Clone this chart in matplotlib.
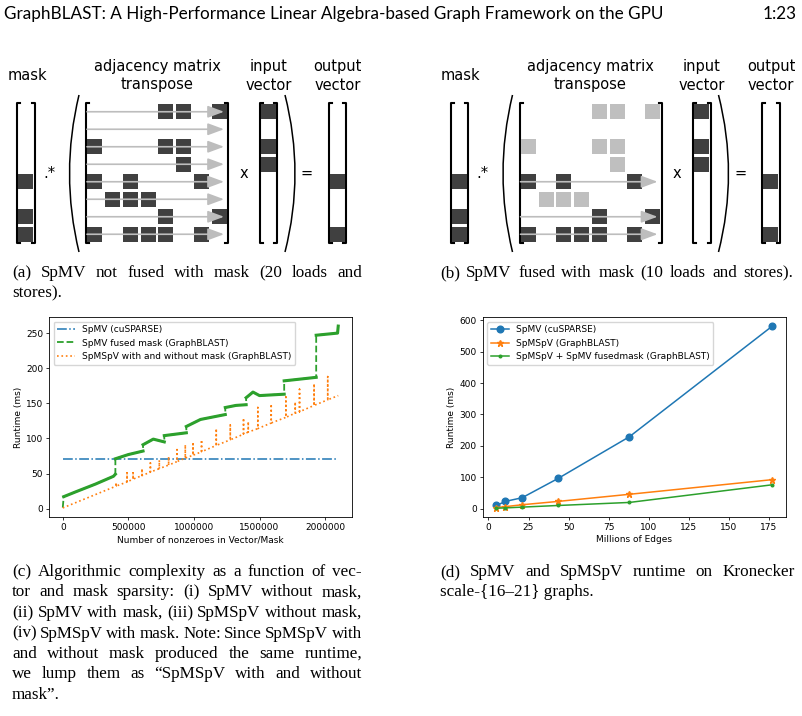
import matplotlib
matplotlib.use('Agg')
import matplotlib.pyplot as plt
from matplotlib.patches import Rectangle, PathPatch
from matplotlib.path import Path

# ---- data ----
# (a)/(b) 8x8 adjacency pattern: nonzero columns of each row
adj_cols = [[4, 5, 7], [], [0, 4, 5], [5], [0, 2, 6], [1, 2, 3], [4, 7], [0, 2, 3, 4, 6]]
mask_rows = [4, 6, 7]
input_rows = [0, 2, 3]
output_rows = [4, 7]

# (c) runtime vs nonzeroes
spmv_x = [0, 2100000]
spmv_y = [71, 71]
# fused mask: piecewise segments between the jumps
fused_x = [[0], [7e3, 100e3, 250e3, 386e3, 401e3], [401e3, 500e3, 612e3], [612e3, 690e3, 774e3],
           [774e3, 942e3], [942e3, 1050e3, 1239e3], [1239e3, 1320e3, 1398e3],
           [1398e3, 1450e3, 1500e3, 1688e3], [1688e3, 1932e3], [1932e3, 2095e3, 2100e3]]
fused_y = [[1.5], [17, 24, 35, 46, 49], [71, 77, 82], [91, 99, 95], [104, 108], [117, 127, 134],
           [144, 147, 148], [158, 166, 161, 163], [182, 187], [247, 250, 260]]
# spmspv: straight baseline with spikes
spmspv_ends_x = [0, 2100000]
spmspv_ends_y = [1, 161]
spike_x = [406e3, 490e3, 536e3, 604e3, 668e3, 736e3, 807e3, 871e3, 934e3, 993e3, 1058e3, 1170e3,
           1277e3, 1378e3, 1414e3, 1487e3, 1589e3, 1701e3, 1772e3, 1805e3, 1916e3, 2020e3]
spike_base = [32, 38, 42, 47, 52, 57, 62, 67, 72, 76, 81, 90, 98, 106, 109, 114, 122, 130, 136, 138, 147, 155]
spike_top = [37, 51, 51, 57, 65, 69, 74, 84, 91, 92, 98, 114, 119, 129, 124, 144, 149, 159, 152, 170, 178, 188]

# (d) Kronecker graphs
edges_m = [5, 10.5, 21, 43.5, 88, 177]
spmv_ms = [9.7, 22.7, 34.4, 96, 229, 581]
spmspv_ms = [3, 6, 12, 22.7, 45.4, 92]
fusedmask_ms = [1, 2, 4.5, 9.7, 19.4, 75.6]

header = 'GraphBLAST: A High-Performance Linear Algebra-based Graph Framework on the GPU'
cap_a = ['(a) SpMV not fused with mask (20 loads and', 'stores).']
cap_b = ['(b) SpMV fused with mask (10 loads and stores).']
cap_c = ['(c) Algorithmic complexity as a function of vec-',
         'tor and mask sparsity: (i) SpMV without mask,',
         '(ii) SpMV with mask, (iii) SpMSpV without mask,',
         '(iv) SpMSpV with mask. Note: Since SpMSpV with',
         'and without mask produced the same runtime,',
         'we lump them as \u201cSpMSpV with and without',
         'mask\u201d.']
cap_d = ['(d) SpMV and SpMSpV runtime on Kronecker', 'scale-{16\u201321} graphs.']

plt.rcParams.update({'font.size': 6.5, 'axes.linewidth': 0.6, 'lines.linewidth': 0.9,
                     'xtick.major.size': 2.1, 'ytick.major.size': 2.1,
                     'xtick.major.width': 0.55, 'ytick.major.width': 0.55,
                     'xtick.major.pad': 2.1, 'ytick.major.pad': 2.1, 'axes.labelpad': 2.4,
                     'legend.fontsize': 6.5})

W, H = 802, 716
fig = plt.figure(figsize=(W / 100, H / 100), dpi=100)
page = fig.add_axes([0, 0, 1, 1])
page.set_xlim(0, W)
page.set_ylim(H, 0)
page.axis('off')
renderer = fig.canvas.get_renderer()

DARK = '#404040'
LIGHT = '#bfbfbf'
TOP, BOT = 103, 243
ROW_H = (BOT - TOP) / 8


def px_rect(l, t, w, h):
    return [l / W, (H - t - h) / H, w / W, h / H]


def bracket(x0, x1):
    page.plot([x0 + 3, x0, x0, x0 + 3], [TOP, TOP, BOT, BOT], color='black', lw=1.5)
    page.plot([x1 - 3, x1, x1, x1 - 3], [TOP, TOP, BOT, BOT], color='black', lw=1.5)


def cell(x, y, w, h, color):
    page.add_patch(Rectangle((x + 1.4, y + 1.4), w - 2.8, h - 2.8, color=color, lw=0, zorder=2))


def vector(x0, rows):
    bracket(x0, x0 + 17.5)
    for r in rows:
        cell(x0, TOP + r * ROW_H, 17.5, ROW_H, DARK)


def paren(xt, xm):
    verts = [(xt, 95), (2 * xm - xt, 173.5), (xt, 252)]
    page.add_patch(PathPatch(Path(verts, [Path.MOVETO, Path.CURVE3, Path.CURVE3]),
                             fill=False, lw=1.1, color='black'))


def panel(dx, fused):
    tk = dict(family='DejaVu Sans', fontsize=10.5, ha='center', va='center')
    page.text(27 + dx, 76, 'mask', **tk)
    page.text(157 + dx, 67, 'adjacency matrix', **tk)
    page.text(157 + dx, 85, 'transpose', **tk)
    page.text(268.5 + dx, 67, 'input', **tk)
    page.text(268.5 + dx, 85, 'vector', **tk)
    page.text(337.5 + dx, 67, 'output', **tk)
    page.text(337.5 + dx, 85, 'vector', **tk)
    page.text(49 + dx, 174, '.*', **tk)
    page.text(243.5 + dx, 174, 'x', **tk)
    page.text(307 + dx, 173, '=', **tk)

    vector(17 + dx, mask_rows)
    paren(79 + dx, 69.5 + dx)
    bracket(86 + dx, 228 + dx)
    cw = (228 - 86) / 8
    for r, cols in enumerate(adj_cols):
        col = DARK if (not fused or r in mask_rows) else LIGHT
        for c in cols:
            cell(86 + dx + c * cw, TOP + r * ROW_H, cw, ROW_H, col)
    arrow_rows = mask_rows if fused else range(8)
    for r in arrow_rows:
        yc = TOP + (r + 0.5) * ROW_H
        page.annotate('', xy=(224 + dx, yc), xytext=(87 + dx, yc),
                      arrowprops=dict(arrowstyle='-|>,head_length=0.7,head_width=0.26',
                                      color='#bdbdbd', lw=1.2, shrinkA=0, shrinkB=0,
                                      mutation_scale=14))
    vector(259.5 + dx, input_rows)
    paren(285 + dx, 295 + dx)
    vector(328.5 + dx, output_rows)


panel(0, False)
panel(433.5, True)

# ---- page text ----
hdr = page.text(4, 19, header, family='Lato', fontsize=12, va='baseline')
hdr.set_fontsize(12 * 658 / hdr.get_window_extent(renderer).width)
page.text(797, 19, '1:23', family='Lato', fontsize=hdr.get_fontsize(), va='baseline', ha='right')

CAP = 'Liberation Serif'
cap_size = 12.3
MIN_GAP = 3.0


def caption(x0, x1, y0, lines, last_justified=False):
    for i, line in enumerate(lines):
        y = y0 + i * 20.5
        if i == len(lines) - 1 and not last_justified:
            page.text(x0, y, line, family=CAP, fontsize=cap_size, va='baseline')
            continue
        words = line.split(' ')
        ts = [page.text(x0, y, w, family=CAP, fontsize=cap_size, va='baseline') for w in words]
        ws = [t.get_window_extent(renderer).width for t in ts]
        room = x1 - x0 - MIN_GAP * (len(words) - 1)
        if sum(ws) > room:
            # squeeze this line a little so it still fits
            k = room / sum(ws)
            for t in ts:
                t.set_fontsize(cap_size * k)
            ws = [w * k for w in ws]
        gap = (x1 - x0 - sum(ws)) / (len(words) - 1)
        x = x0
        for t, w in zip(ts, ws):
            t.set_x(x)
            x += w + gap


caption(12, 362, 277, cap_a)
caption(440, 793, 277, cap_b, last_justified=True)
caption(12, 362, 576, cap_c)
caption(440, 795, 576, cap_d)

# ---- (c) ----
axc = fig.add_axes(px_rect(49, 317, 303, 200))
axc.plot(spmv_x, spmv_y, '-.', color='C0', lw=1.1, label='SpMV (cuSPARSE)')
gx = [v for seg in fused_x for v in seg]
gy = [v for seg in fused_y for v in seg]
axc.plot(gx, gy, '--', color='C2', lw=1.3, label='SpMV fused mask (GraphBLAST)')
for sx, sy in zip(fused_x[1:], fused_y[1:]):
    axc.plot(sx, sy, '-', color='C2', lw=2.2)
ox = [spmspv_ends_x[0]]
oy = [spmspv_ends_y[0]]
for x, b, t in zip(spike_x, spike_base, spike_top):
    ox += [x, x, x]
    oy += [b, t, b]
ox.append(spmspv_ends_x[1])
oy.append(spmspv_ends_y[1])
axc.plot(ox, oy, ':', color='C1', lw=1.2, label='SpMSpV with and without mask (GraphBLAST)')
axc.ticklabel_format(axis='x', style='plain')
axc.set_xlabel('Number of nonzeroes in Vector/Mask')
axc.set_ylabel('Runtime (ms)')
axc.legend(loc='upper left')

# ---- (d) ----
axd = fig.add_axes(px_rect(482.7, 317.3, 303, 200))
axd.plot(edges_m, spmv_ms, 'o-', lw=1.1, ms=4.8, label='SpMV (cuSPARSE)')
axd.plot(edges_m, spmspv_ms, '*-', lw=1.1, ms=4.5, label='SpMSpV (GraphBLAST)')
axd.plot(edges_m, fusedmask_ms, '.-', lw=1.1, ms=3.8, label='SpMSpV + SpMV fusedmask (GraphBLAST)')
axd.set_xlabel('Millions of Edges')
axd.set_ylabel('Runtime (ms)')
axd.legend(loc='upper left')

fig.savefig('out.png', dpi=100)
